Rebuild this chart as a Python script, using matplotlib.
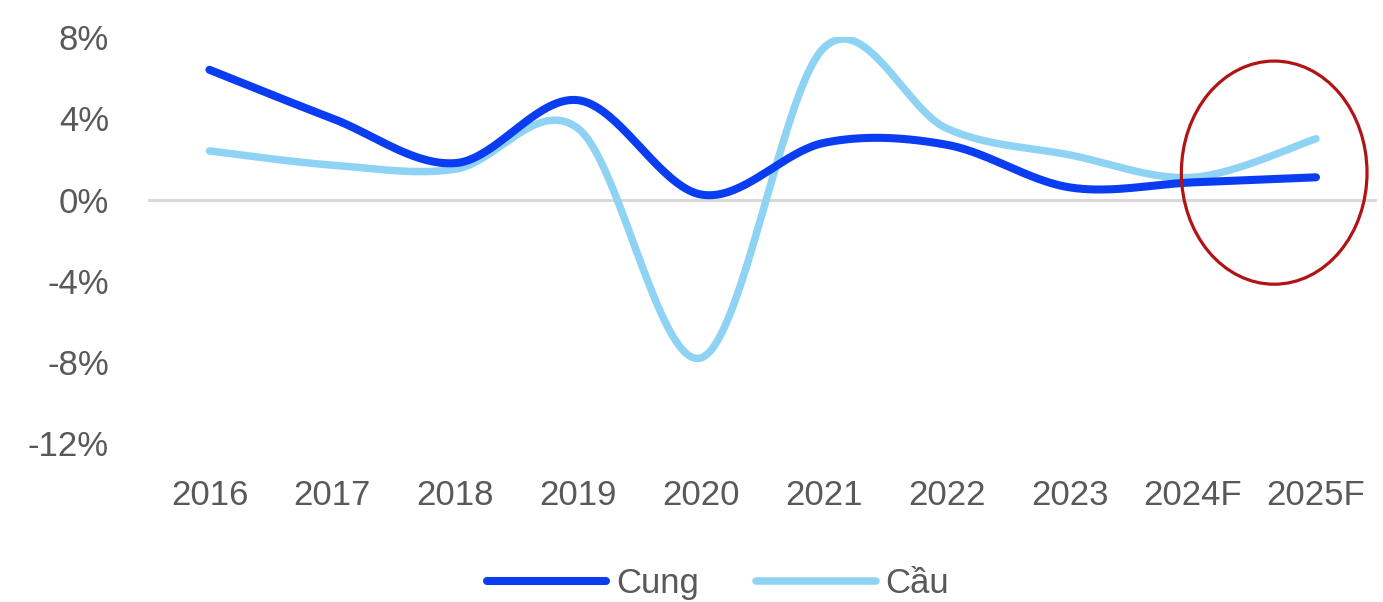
import numpy as np
import matplotlib.pyplot as plt
from matplotlib.patches import Ellipse
from matplotlib.ticker import FuncFormatter

years = ["2016", "2017", "2018", "2019", "2020", "2021", "2022", "2023", "2024F", "2025F"]
cung = [6.4, 4.0, 1.8, 4.9, 0.25, 2.8, 2.7, 0.6, 0.85, 1.1]
cau = [2.4, 1.7, 1.5, 3.5, -7.8, 7.5, 3.5, 2.2, 1.1, 3.0]

plt.rcParams["font.family"] = ["Liberation Sans", "DejaVu Sans"]
text_color = "#595959"
fs = 25


def smooth(y, n=40):
    # Bezier curve through every point, control points as in spreadsheet smoothed lines
    x = np.arange(len(y), dtype=float)
    y = np.asarray(y, dtype=float)
    px = np.concatenate([[x[0]], x, [x[-1]]])
    py = np.concatenate([[y[0]], y, [y[-1]]])
    xs, ys = [], []
    t = np.linspace(0, 1, n)
    for i in range(len(y) - 1):
        p0 = np.array([x[i], y[i]])
        p3 = np.array([x[i + 1], y[i + 1]])
        p1 = p0 + (np.array([px[i + 2], py[i + 2]]) - np.array([px[i], py[i]])) / 6
        p2 = p3 - (np.array([px[i + 3], py[i + 3]]) - np.array([px[i + 1], py[i + 1]])) / 6
        b = ((1 - t) ** 3)[:, None] * p0 + (3 * (1 - t) ** 2 * t)[:, None] * p1 \
            + (3 * (1 - t) * t ** 2)[:, None] * p2 + (t ** 3)[:, None] * p3
        xs.append(b[:, 0])
        ys.append(b[:, 1])
    return np.concatenate(xs), np.concatenate(ys)


fig = plt.figure(figsize=(13.83, 6.02), dpi=100)
ax = fig.add_axes([0.107, 0.264, 0.889, 0.674])

ax.axhline(0, color="#d9d9d9", lw=2.2, zorder=1)

xc, yc = smooth(cung)
xd, yd = smooth(cau)
ax.plot(xd, yd, color="#8fd3f4", lw=5.4, solid_capstyle="round", label="Cầu", zorder=2)
ax.plot(xc, yc, color="#0a3cf2", lw=5.8, solid_capstyle="round", label="Cung", zorder=3)

ax.add_patch(Ellipse((8.66, 1.33), 1.51, 11.0, fill=False, edgecolor="#b01414", lw=2.3, zorder=4))

ax.set_xlim(-0.5, len(years) - 0.5)
ax.set_ylim(-12, 8)
ax.set_yticks(np.arange(-12, 9, 4))
ax.yaxis.set_major_formatter(FuncFormatter(lambda v, _: f"{v:.0f}%"))
ax.set_xticks(range(len(years)))
ax.set_xticklabels(years)
ax.tick_params(axis="both", length=0, labelsize=fs, labelcolor=text_color)
ax.tick_params(axis="x", pad=26)
ax.tick_params(axis="y", pad=28)
for s in ax.spines.values():
    s.set_visible(False)

h, l = ax.get_legend_handles_labels()
fig.legend(h[::-1], l[::-1], loc="center", bbox_to_anchor=(0.519, 0.03), ncol=2, frameon=False,
           fontsize=fs, labelcolor=text_color, handlelength=3.45, handletextpad=0.28,
           columnspacing=1.64)

fig.savefig("out.png", dpi=100, facecolor="white")
